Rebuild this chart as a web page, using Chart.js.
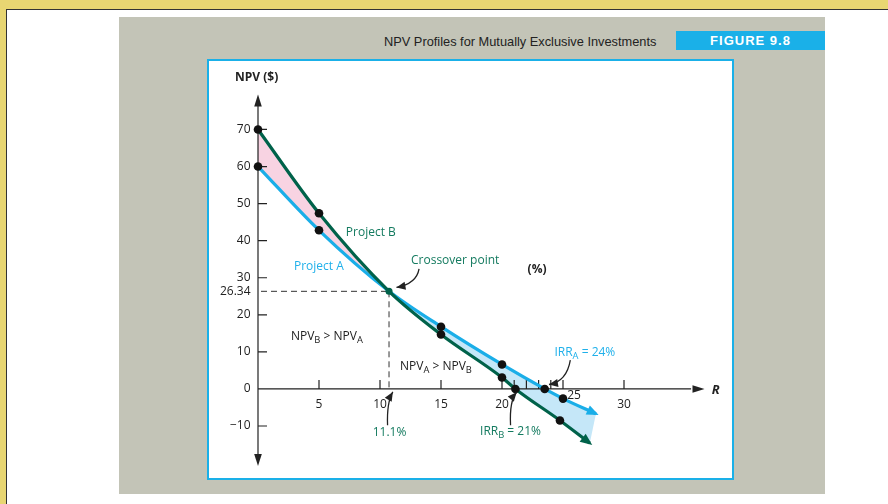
<!DOCTYPE html>
<html><head><meta charset="utf-8">
<script src="https://cdn.jsdelivr.net/npm/chart.js"></script>
<style>
html,body{margin:0;padding:0;width:888px;height:504px;overflow:hidden;background:#fff;}
.a{position:absolute;}
#frameTop{left:0;top:0;width:888px;height:9px;background:#e8d672;}
#frameLeft{left:0;top:0;width:6px;height:504px;background:#e8d672;}
#lineTop{left:6px;top:9px;width:882px;height:1px;background:#333;}
#lineLeft{left:6px;top:9px;width:1px;height:495px;background:#333;}
#panel{left:119px;top:17px;width:706px;height:477px;background:#c3c4b7;}
#box{left:207px;top:59px;width:523px;height:417px;background:#fff;border:2px solid #1ab0e8;}
#title{left:384px;top:34px;font:12.8px "Liberation Sans",Arial,sans-serif;color:#222;white-space:nowrap;}
#fig{left:676px;top:31px;width:149px;height:19px;background:#1ab0e8;color:#fff;font:bold 13px "Liberation Sans",Arial,sans-serif;letter-spacing:1px;text-align:center;line-height:19px;}
#wrap{left:0;top:0;width:888px;height:504px;}
</style></head>
<body>
<div class="a" id="frameTop"></div>
<div class="a" id="frameLeft"></div>
<div class="a" id="lineTop"></div>
<div class="a" id="lineLeft"></div>
<div class="a" id="panel"></div>
<div class="a" id="box"></div>
<div class="a" id="title">NPV Profiles for Mutually Exclusive Investments</div>
<div class="a" id="fig">FIGURE 9.8</div>
<div class="a" id="wrap"><canvas id="c" width="888" height="504"></canvas></div>
<script>
// ---- data ----
const xTicks = [5, 10, 15, 20, 25, 30];
const xMinorTicks = [21, 22, 23, 24];
const yTicks = [70, 60, 50, 40, 30, 20, 10, -10];
const crossoverR = 10.74;
const crossoverNPV = 26.34;
const projectA_R   = [0, 5, 10.74, 15, 20, 23.5, 25, 27.7];
const projectA_NPV = [60, 42.8, 26.34, 16.8, 6.6, 0, -2.6, -6.7];
const projectB_R   = [0, 5, 10.74, 15, 20, 21.1, 24.75, 27.2];
const projectB_NPV = [70, 47.4, 26.34, 14.7, 3.1, 0, -8.5, -14.6];
const dotIndex = [0, 1, 3, 4, 5, 6];

// ---- styles ----
const GREEN = '#00624a', GREEN_T = '#137a5f', BLUE = '#1aaee8', BLUE_T = '#1fb0ea';
const PINK = '#f8d3e2', LBLUE = '#c5e7f8', INK = '#222';
const FONT = '"Open Sans", "Noto Sans", sans-serif';

const ptsA = projectA_R.map((r, i) => ({x: r, y: projectA_NPV[i]}));
const ptsB = projectB_R.map((r, i) => ({x: r, y: projectB_NPV[i]}));
const dots = [...dotIndex.map(i => ptsA[i]), ...dotIndex.map(i => ptsB[i])];

function curvePath(ctx, P, reverse, move) {
  const Q = reverse ? P.slice().reverse() : P;
  if (move) ctx.moveTo(Q[0].x, Q[0].y); else ctx.lineTo(Q[0].x, Q[0].y);
  for (let i = 1; i < Q.length; i++) {
    const a = Q[i - 1], b = Q[i];
    if (!reverse) ctx.bezierCurveTo(a.cp2x, a.cp2y, b.cp1x, b.cp1y, b.x, b.y);
    else ctx.bezierCurveTo(a.cp1x, a.cp1y, b.cp2x, b.cp2y, b.x, b.y);
  }
}
function arrowHead(ctx, tx, ty, dx, dy, len, half, color) {
  const L = Math.hypot(dx, dy); dx /= L; dy /= L;
  const bx = tx - dx * len, by = ty - dy * len;
  ctx.fillStyle = color;
  ctx.beginPath();
  ctx.moveTo(tx, ty);
  ctx.lineTo(bx - dy * half, by + dx * half);
  ctx.lineTo(bx + dy * half, by - dx * half);
  ctx.closePath(); ctx.fill();
}
function rich(ctx, x, y, parts, size, color, weight) {
  let cx = x;
  ctx.fillStyle = color; ctx.textAlign = 'left'; ctx.textBaseline = 'middle';
  for (const [t, sub] of parts) {
    ctx.font = `${weight || 'normal'} ${sub ? size * 0.78 : size}px ${FONT}`;
    ctx.fillText(t, cx, sub ? y + size * 0.32 : y);
    cx += ctx.measureText(t).width;
  }
}

const notes = [
  {parts: [['Project B']], r: 7.2, v: 42.1, color: GREEN_T},
  {parts: [['Project A']], r: 2.95, v: 32.9, color: BLUE_T},
  {parts: [['Crossover point']], r: 12.54, v: 34.5, color: GREEN_T},
  {parts: [['(%)']], r: 22.1, v: 32.1, color: INK, weight: 'bold'},
  {parts: [['NPV'], ['B', 1], [' > NPV'], ['A', 1]], r: 2.7, v: 14.1, color: INK},
  {parts: [['NPV'], ['A', 1], [' > NPV'], ['B', 1]], r: 11.64, v: 6.0, color: INK},
  {parts: [['IRR'], ['A', 1], [' = 24%']], r: 24.3, v: 9.8, color: BLUE_T},
  {parts: [['IRR'], ['B', 1], [' = 21%']], r: 18.2, v: -11.6, color: GREEN_T},
  {parts: [['11.1%']], r: 9.4, v: -11.9, color: GREEN_T},
];
const callouts = [
  {from: [13.2, 32.4], ctrl: [13.0, 28.4], to: [11.35, 27.4]},
  {from: [25.6, 7.8], ctrl: [25.3, 2.0], to: [23.85, 1.2]},
  {from: [20.7, -9.8], ctrl: [20.6, -3.2], to: [21.2, -0.9]},
  {from: [10.62, -9.8], ctrl: [10.55, -3.6], to: [11.05, -0.8]},
];

const fillPlugin = {
  id: 'fills',
  beforeDatasetsDraw(chart) {
    const ctx = chart.ctx, xs = chart.scales.x, ys = chart.scales.y;
    const mA = chart.getDatasetMeta(1), mB = chart.getDatasetMeta(0);
    mA.dataset.updateControlPoints(chart.chartArea, 'x');
    mB.dataset.updateControlPoints(chart.chartArea, 'x');
    const cx = xs.getPixelForValue(crossoverR);
    const path = () => {
      ctx.beginPath();
      curvePath(ctx, mA.data, false, true);
      curvePath(ctx, mB.data, true, false);
      ctx.closePath();
    };
    ctx.save();
    ctx.beginPath(); ctx.rect(0, 0, cx, 504); ctx.clip();
    path(); ctx.fillStyle = PINK; ctx.fill();
    ctx.restore();
    ctx.save();
    ctx.beginPath(); ctx.rect(cx, 0, 888 - cx, 504); ctx.clip();
    path(); ctx.fillStyle = LBLUE; ctx.fill();
    ctx.restore();

    // axes
    const X = v => xs.getPixelForValue(v), Y = v => ys.getPixelForValue(v);
    const ax = X(0), ay = Y(0);
    ctx.save();
    ctx.strokeStyle = INK; ctx.lineWidth = 1.2;
    ctx.beginPath();
    ctx.moveTo(ax, Y(77)); ctx.lineTo(ax, Y(-18));
    ctx.moveTo(ax, ay); ctx.lineTo(X(35.5), ay);
    for (const t of yTicks) { ctx.moveTo(ax, Y(t)); ctx.lineTo(ax + 9, Y(t)); }
    for (const t of xTicks.concat(xMinorTicks)) { ctx.moveTo(X(t), ay); ctx.lineTo(X(t), ay - 9); }
    ctx.stroke();
    arrowHead(ctx, ax, Y(79.4), 0, -1, 12, 3.8, INK);
    arrowHead(ctx, ax, Y(-20.8), 0, 1, 12, 3.8, INK);
    arrowHead(ctx, X(36.6), ay, 1, 0, 12, 3.8, INK);
    // dashed guides
    ctx.setLineDash([6, 4]); ctx.lineWidth = 1; ctx.strokeStyle = '#333';
    ctx.beginPath();
    ctx.moveTo(ax + 3, Y(crossoverNPV)); ctx.lineTo(X(crossoverR), Y(crossoverNPV));
    ctx.moveTo(X(crossoverR), Y(crossoverNPV)); ctx.lineTo(X(crossoverR), ay);
    ctx.stroke();
    ctx.setLineDash([]);
    // tick labels
    ctx.fillStyle = INK; ctx.font = `12px ${FONT}`; ctx.textBaseline = 'middle';
    ctx.textAlign = 'right';
    for (const t of yTicks.concat([0])) ctx.fillText(t < 0 ? '\u2212' + (-t) : String(t), ax - 7.5, Y(t));
    ctx.fillText(crossoverNPV.toFixed(2), ax - 7.5, Y(crossoverNPV));
    ctx.textAlign = 'center';
    for (const t of xTicks) {
      const off = t === 25 ? [11, -9] : [0, 0];
      ctx.fillText(String(t), X(t) + off[0], ay + 16 + off[1]);
    }
    ctx.restore();
  },
  afterDatasetsDraw(chart) {
    const ctx = chart.ctx, xs = chart.scales.x, ys = chart.scales.y;
    const X = v => xs.getPixelForValue(v), Y = v => ys.getPixelForValue(v);
    for (const [idx, color] of [[0, GREEN], [1, BLUE]]) {
      const d = chart.getDatasetMeta(idx).data, p = d[d.length - 1];
      const dx = p.x - p.cp1x, dy = p.y - p.cp1y, L = Math.hypot(dx, dy);
      arrowHead(ctx, p.x + dx / L * 3, p.y + dy / L * 3, dx, dy, 12, 5, color);
    }
    ctx.save();
    rich(ctx, X(0) - 23, Y(83.9), [['NPV ($)']], 12, INK, 'bold');
    ctx.font = `italic bold 13px ${FONT}`; ctx.fillStyle = INK; ctx.textAlign = 'left';
    ctx.fillText('R', X(37.2), Y(-0.3));
    for (const n of notes) rich(ctx, X(n.r), Y(n.v), n.parts, 12, n.color, n.weight);
    ctx.strokeStyle = INK; ctx.lineWidth = 1.3;
    for (const c of callouts) {
      const f = [X(c.from[0]), Y(c.from[1])], k = [X(c.ctrl[0]), Y(c.ctrl[1])], t = [X(c.to[0]), Y(c.to[1])];
      ctx.beginPath(); ctx.moveTo(f[0], f[1]); ctx.quadraticCurveTo(k[0], k[1], t[0], t[1]); ctx.stroke();
      arrowHead(ctx, t[0], t[1], t[0] - k[0], t[1] - k[1], 9, 4, INK);
    }
    ctx.restore();
  }
};

new Chart(document.getElementById('c'), {
  type: 'line',
  data: {
    datasets: [
      {label: 'Project B', data: ptsB, borderColor: GREEN, borderWidth: 3.2, pointRadius: 0, fill: false,
       cubicInterpolationMode: 'monotone', order: 2, clip: false},
      {label: 'Project A', data: ptsA, borderColor: BLUE, borderWidth: 3.2, pointRadius: 0, fill: false,
       cubicInterpolationMode: 'monotone', order: 3, clip: false},
      {label: 'Points', type: 'scatter', data: dots, pointRadius: 4.3, pointBackgroundColor: '#111',
       pointBorderWidth: 0, showLine: false, order: 0, clip: false},
      {label: 'Crossover', type: 'scatter', data: [{x: crossoverR, y: crossoverNPV}], pointRadius: 3.5,
       pointBackgroundColor: GREEN, pointBorderWidth: 0, showLine: false, order: 1, clip: false}
    ]
  },
  options: {
    responsive: false, animation: false, devicePixelRatio: 1,
    layout: {padding: {left: 258, right: 190.8, top: 92.4, bottom: 37.2}},
    scales: {
      x: {type: 'linear', min: 0, max: 36, display: false},
      y: {type: 'linear', min: -21, max: 80, display: false}
    },
    plugins: {legend: {display: false}, tooltip: {enabled: false}}
  },
  plugins: [fillPlugin]
});
</script>
</body></html>
